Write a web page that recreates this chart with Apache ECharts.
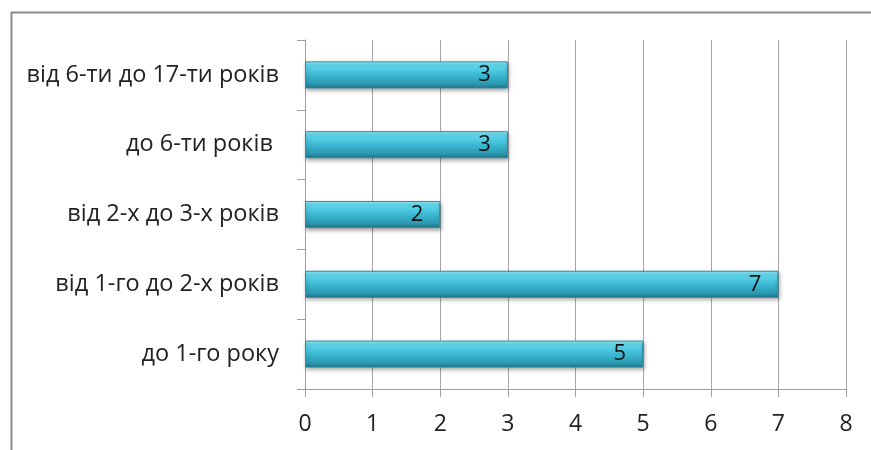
<!DOCTYPE html>
<html>
<head>
<meta charset="utf-8">
<script src="https://cdn.jsdelivr.net/npm/echarts@6/dist/echarts.min.js"></script>
<style>
  html, body { margin: 0; padding: 0; background: #fff; }
  #chart { width: 871px; height: 450px; }
</style>
</head>
<body>
<div id="chart"></div>
<script>
// Age groups (top to bottom) and counts
const categories = [
  'від 6-ти до 17-ти років',
  'до 6-ти років ',
  'від 2-х до 3-х років',
  'від 1-го до 2-х років',
  'до 1-го року'
];
const values = [3, 3, 2, 7, 5];
const axisMin = 0;
const axisMax = 8;
const axisStep = 1;

const FONT = '"Open Sans", "Noto Sans", sans-serif';
const chart = echarts.init(document.getElementById('chart'), null, { renderer: 'canvas' });

const barFill = new echarts.graphic.LinearGradient(0, 0, 0, 1, [
  { offset: 0, color: '#a0f4ff' },
  { offset: 0.12, color: '#66dcf0' },
  { offset: 0.5, color: '#3cb9d3' },
  { offset: 0.85, color: '#2b97af' },
  { offset: 1, color: '#1f7184' }
]);

chart.setOption({
  animation: false,
  backgroundColor: '#ffffff',
  graphic: [{
    type: 'rect',
    left: 9, top: 10,
    shape: { width: 900, height: 500 },
    style: { fill: 'none', stroke: '#8c8c8c', lineWidth: 2 },
    silent: true
  }],
  grid: { left: 305, right: 25, top: 40, bottom: 61 },
  xAxis: {
    type: 'value',
    min: axisMin, max: axisMax, interval: axisStep,
    axisLine: { show: true, lineStyle: { color: '#a0a0a0', width: 1 } },
    axisTick: { show: true, length: 8, lineStyle: { color: '#a0a0a0' } },
    axisLabel: { color: '#222', fontSize: 23, fontFamily: FONT, margin: 24 },
    splitLine: { show: true, lineStyle: { color: '#a6a6a6', width: 1 } }
  },
  yAxis: {
    type: 'category',
    inverse: true,
    data: categories,
    axisLine: { show: true, lineStyle: { color: '#a0a0a0', width: 1 } },
    axisTick: { show: true, length: 8, alignWithLabel: false, lineStyle: { color: '#a0a0a0' } },
    axisLabel: { color: '#222', fontSize: 23.5, fontFamily: FONT, margin: 26 }
  },
  series: [{
    type: 'bar',
    data: values,
    barWidth: 27,
    itemStyle: {
      color: barFill,
      borderColor: '#2a8da4',
      borderWidth: 1,
      shadowColor: 'rgba(0,0,0,0.35)',
      shadowBlur: 4,
      shadowOffsetX: 1,
      shadowOffsetY: 2
    },
    label: {
      show: true,
      position: 'insideRight',
      distance: 17,
      color: '#111',
      fontSize: 22,
      fontFamily: FONT
    }
  }]
});
</script>
</body>
</html>
